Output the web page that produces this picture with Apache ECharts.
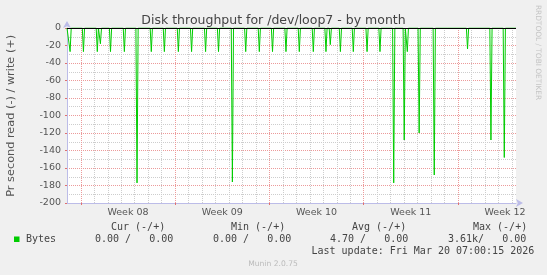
<!DOCTYPE html>
<html><head><meta charset="utf-8">
<script src="https://cdn.jsdelivr.net/npm/echarts@6/dist/echarts.min.js"></script>
<style>html,body{margin:0;padding:0;background:#f0f0f0}#c{width:547px;height:275px}</style>
</head><body><div id="c"></div>
<script>
// ---- data ----
const titleText = 'Disk throughput for /dev/loop7 - by month';
const yAxisName = 'Pr second read (-) / write (+)';
const watermark = 'RRDTOOL / TOBI OETIKER';
const weekLabels = ['Week 08', 'Week 09', 'Week 10', 'Week 11', 'Week 12'];
const weekCenters = [3.5, 10.5, 17.5, 24.5, 31.5];   // days since Mon 16 Feb 2026
const weekStarts = [0, 7, 14, 21, 28];
const xStart = -1.03, xEnd = 32.31;                  // window: ~33 days ending Mar 20 07:00
const stepDays = 1 / 12;                             // 2 h RRD step
// read spikes (shown negative), day offset and bytes/s
const spikeDays = [-0.80, 0.19, 1.22, 1.45, 2.20, 3.23, 4.17, 5.23, 6.20, 7.24, 8.22, 9.26,
  10.22, 11.25, 12.24, 13.25, 14.23, 15.23, 16.22, 17.26, 18.20, 18.52, 19.27, 20.23,
  21.25, 22.21, 23.23, 24.01, 24.24, 25.12, 26.24, 26.44, 27.13, 28.71, 30.45, 31.44];
const spikeRead = [-27, -27, -27, -18, -27, -27, -177, -27, -27, -27, -27, -27,
  -27, -176, -27, -27, -27, -27, -27, -27, -27, -19, -27, -27,
  -27, -27, -177, -128, -27, -120, -168, -2, -2, -24, -128, -148];
const yTickLabels = [0, -20, -40, -60, -80, -100, -120, -140, -160, -180, -200];
const legendHeaders = ['Cur (-/+)', 'Min (-/+)', 'Avg (-/+)', 'Max (-/+)'];
const legendValues = ['0.00 /   0.00', '0.00 /   0.00', '4.70 /   0.00', '3.61k/   0.00'];
const seriesName = 'Bytes';
const lastUpdate = 'Last update: Fri Mar 20 07:00:15 2026';
const footer = 'Munin 2.0.75';

// ---- build ----
const readData = [[xStart, 0]];
spikeDays.forEach((d, i) => {
  readData.push([d - stepDays, 0], [d, spikeRead[i]], [d + stepDays, 0]);
});
readData.push([xEnd, 0]);

const FONT = 'DejaVu Sans';
const MONO = 'DejaVu Sans Mono';
const major = '#ec9a9a', minor = '#cdcdcd', axisCol = '#bcbce8';

const allDays = [];
for (let d = Math.ceil(xStart); d <= xEnd; d++) allDays.push(d);
const dayColors = allDays.map(d => (weekStarts.indexOf(d) >= 0 ? major : minor));

const headerX = [111, 231, 352, 473];
const valueX = [95, 213, 330, 448];

const graphics = [
  { type: 'text', x: 10.7, y: 115.8, rotation: Math.PI / 2,
    style: { text: yAxisName, font: '11.3px ' + FONT, fill: '#555', align: 'center', verticalAlign: 'middle' } },
  { type: 'text', x: 537.5, y: 52.5, rotation: -Math.PI / 2,
    style: { text: watermark, font: '7.4px ' + FONT, fill: '#c4c4c4', align: 'center', verticalAlign: 'middle' } },
  { type: 'rect', shape: { x: 14, y: 236.5, width: 5.5, height: 5.5 }, style: { fill: '#00cc00' } },
  { type: 'text', x: 26, y: 239.7, style: { text: seriesName, font: '10px ' + MONO, fill: '#444', verticalAlign: 'middle' } },
  { type: 'text', x: 311.5, y: 251.4, style: { text: lastUpdate, font: '10px ' + MONO, fill: '#444', verticalAlign: 'middle' } },
  { type: 'text', x: 273, y: 264, style: { text: footer, font: '7.6px ' + FONT, fill: '#bbb', align: 'center', verticalAlign: 'middle' } }
];
legendHeaders.forEach((t, i) => graphics.push({ type: 'text', x: headerX[i], y: 227.6,
  style: { text: t, font: '10px ' + MONO, fill: '#444', verticalAlign: 'middle' } }));
legendValues.forEach((t, i) => graphics.push({ type: 'text', x: valueX[i], y: 239.7,
  style: { text: t, font: '10px ' + MONO, fill: '#444', verticalAlign: 'middle' } }));

const chart = echarts.init(document.getElementById('c'), null, { renderer: 'canvas' });
chart.setOption({
  animation: false,
  backgroundColor: '#f0f0f0',
  textStyle: { fontFamily: FONT },
  title: { text: titleText, left: 'center', top: 9,
    textStyle: { fontSize: 12.5, fontWeight: 'normal', color: '#444', fontFamily: FONT } },
  grid: { left: 67, right: 31, top: 28, bottom: 72, show: true, backgroundColor: '#ffffff', borderWidth: 0 },
  xAxis: [
    { type: 'value', min: xStart, max: xEnd,
      axisLine: { show: true, onZero: false, lineStyle: { color: axisCol }, symbol: ['none', 'arrow'], symbolSize: [6, 7], symbolOffset: [0, 7] },
      axisTick: { show: true, customValues: weekStarts, length: 2, lineStyle: { color: '#e07070' } },
      axisLabel: { customValues: weekCenters, fontSize: 9.5, color: '#555', margin: 5, fontFamily: FONT,
        formatter: v => { const i = weekCenters.indexOf(v); return i >= 0 ? weekLabels[i] : ''; } },
      splitLine: { show: false } },
    { type: 'value', min: xStart, max: xEnd,
      axisLine: { show: false, onZero: false },
      axisTick: { show: false, customValues: allDays },
      axisLabel: { show: false },
      splitLine: { show: true, lineStyle: { color: dayColors, type: [1, 1], width: 1 } } }
  ],
  yAxis: {
    type: 'value', min: -200, max: 0, interval: 20,
    axisLine: { show: true, onZero: false, lineStyle: { color: axisCol }, symbol: ['none', 'arrow'], symbolSize: [6, 7], symbolOffset: [0, 7] },
    axisTick: { show: true, length: 2, lineStyle: { color: '#e07070' } },
    axisLabel: { fontSize: 9.5, color: '#555', margin: 6, fontFamily: FONT,
      formatter: v => (yTickLabels.indexOf(v) >= 0 ? String(v) : '') },
    splitLine: { show: true, lineStyle: { color: major, type: [1, 1], width: 1 } },
    minorTick: { show: false, splitNumber: 2 },
    minorSplitLine: { show: true, lineStyle: { color: minor, type: [1, 1], width: 1 } }
  },
  series: [
    { type: 'line', name: seriesName, xAxisIndex: 0, data: readData, z: 2,
      showSymbol: false, symbol: 'none',
      lineStyle: { color: '#00cc00', width: 1 },
      markLine: { silent: true, symbol: 'none', label: { show: false },
        lineStyle: { color: '#000', type: 'solid', width: 1 }, data: [{ yAxis: 0 }] } }
  ],
  graphic: graphics
});
</script></body></html>
